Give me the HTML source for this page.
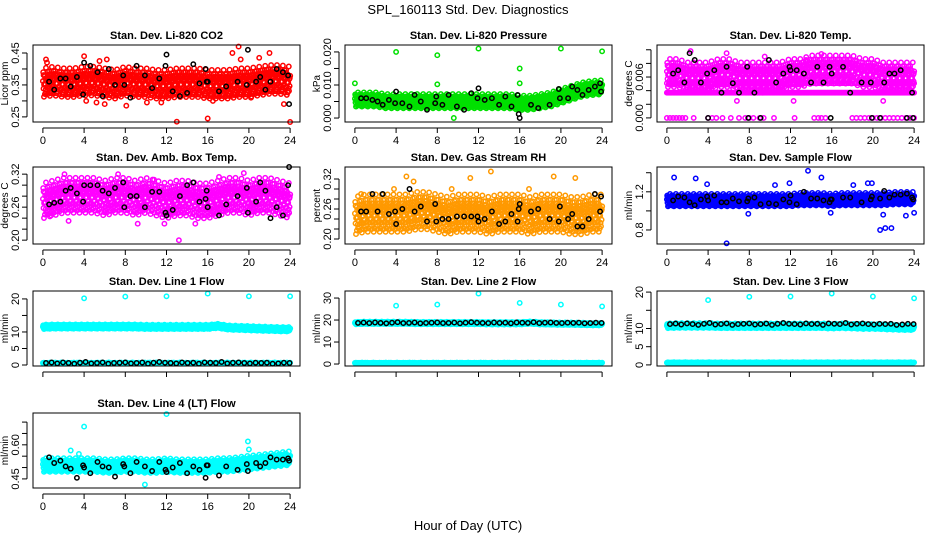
<!DOCTYPE html>
<html><head><meta charset="utf-8"><style>
html,body{margin:0;padding:0;background:#fff;}
svg{display:block;font-family:"Liberation Sans",sans-serif;}
</style></head><body>
<svg id="c" width="936" height="540" viewBox="0 0 936 540" xmlns="http://www.w3.org/2000/svg">
<rect x="0" y="0" width="936" height="540" fill="#fff"/>
<text x="468" y="14" text-anchor="middle" font-size="13">SPL_160113  Std. Dev. Diagnostics</text>
<text x="468" y="530" text-anchor="middle" font-size="13">Hour of Day (UTC)</text>
</svg>
<script>
const hoursTicks=[0,4,8,12,16,20,24];
const offPattern=[0,.7,-.5,.3,-.9,.5,-.2,.9,-.7,.1,.6,-.4,.8,-.6,.2,-.8,.4,-.1,1,-1,.45,-.3,.15];
const titles=["Stan. Dev. Li-820 CO2","Stan. Dev. Li-820 Pressure","Stan. Dev. Li-820 Temp.","Stan. Dev. Amb. Box Temp.","Stan. Dev. Gas Stream RH","Stan. Dev. Sample Flow","Stan. Dev. Line 1 Flow","Stan. Dev. Line 2 Flow","Stan. Dev. Line 3 Flow","Stan. Dev. Line 4 (LT) Flow"];
const yLabels=["Licor ppm","kPa","degrees C","degrees C","percent","ml/min","ml/min","ml/min","ml/min","ml/min"];
const ylims=[[0.234,0.475],[-0.0012,0.0221],[-0.0006,0.0107],[0.193,0.333],[0.19,0.344],[0.653,1.46],[-0.3,22.4],[-0.9,33.2],[-0.3,20.3],[0.41,0.74]];
const yTicks=[[0.25,0.3,0.35,0.4,0.45],[0,0.005,0.01,0.015,0.02],[0,0.002,0.004,0.006,0.008,0.01],[0.2,0.22,0.24,0.26,0.28,0.3,0.32],[0.2,0.22,0.24,0.26,0.28,0.3,0.32],[0.8,1.0,1.2,1.4],[0,5,10,15,20],[0,10,20,30],[0,5,10,15,20],[0.45,0.5,0.55,0.6,0.65,0.7]];
const yTickLabels=[["0.25","","0.35","","0.45"],["0.000","","0.010","","0.020"],["0.000","","","0.006","",""],["0.20","","","0.26","","","0.32"],["0.20","","","0.26","","","0.32"],["0.8","","1.2",""],["0","5","10","","20"],["0","10","20","30"],["0","5","10","","20"],["0.45","","","0.60","",""]];
const colors=["#ff0000","#00e000","#ff00ff","#ff00ff","#ff9900","#0000ff","#00ffff","#00ffff","#00ffff","#00ffff"];
const cloudCenter=[
[.355,.36,.355,.355,.36,.36,.355,.35,.36,.355,.355,.35,.35,.355,.355,.355,.35,.35,.35,.355,.355,.36,.365,.365,.36],
[.0055,.0055,.0055,.005,.005,.005,.005,.005,.005,.005,.005,.005,.005,.005,.005,.005,.0045,.0045,.005,.0055,.0065,.0075,.0085,.0090,.0092],
[.0065,.0065,.006,.006,.006,.0065,.0065,.006,.006,.006,.006,.006,.0065,.0065,.007,.007,.007,.007,.007,.0065,.0065,.006,.006,.006,.006],
[.27,.275,.28,.28,.28,.28,.275,.28,.28,.275,.28,.275,.27,.275,.275,.27,.27,.275,.28,.28,.275,.28,.28,.275,.27],
[.245,.25,.25,.25,.25,.25,.255,.255,.25,.245,.25,.25,.25,.245,.25,.25,.25,.245,.25,.25,.25,.245,.245,.25,.25],
[1.11,1.11,1.11,1.11,1.11,1.11,1.11,1.11,1.11,1.11,1.11,1.11,1.11,1.12,1.12,1.12,1.11,1.12,1.12,1.12,1.12,1.12,1.13,1.13,1.13],
[11.5,11.6,11.6,11.6,11.6,11.6,11.6,11.6,11.6,11.6,11.5,11.5,11.5,11.5,11.5,11.5,11.5,11.8,11.3,11.2,11.1,11.0,10.9,10.8,10.8],
[18.6,18.7,18.7,18.7,18.7,18.7,18.6,18.6,18.6,18.6,18.6,18.6,18.6,18.5,18.5,18.5,18.5,18.8,18.5,18.4,18.3,18.3,18.2,18.1,18.1],
[10.7,10.8,10.8,10.8,10.8,10.7,10.7,10.7,10.7,10.7,10.7,10.7,10.7,10.7,10.7,10.7,10.6,10.7,10.6,10.5,10.5,10.4,10.3,10.2,10.2],
[.51,.51,.51,.51,.51,.51,.505,.505,.51,.51,.505,.505,.51,.505,.505,.505,.505,.51,.51,.515,.52,.525,.53,.535,.54]];
const cloudSpread=[.048,.0023,.0022,.034,.04,.07,.7,.6,.7,.032];
const bandLevel=[null,null,.0037,null,null,null,.6,.5,.6,null];
const bandLevel2=[null,null,.0051,null,null,null,null,null,null,null];
const bandZeroHours=[[],[],[0,0.3,0.6,0.9,1.2,1.5,1.8,2.6,4,4.4,4.8,5.4,6.2,7,7.6,8,8.4,9,9.4,10.4,12.4,14.3,14.7,15,15.4,18,18.4,18.8,19.2,19.6,20,20.4,20.8,21.2,21.6,22,22.4,22.8,23.2,23.6,24],[],[],[],[],[],[],[]];
const outliers=[
[[.3,.43],[.4,.42],[4,.44],[5.5,.425],[6.2,.43],[13,.235],[16,.245],[18.4,.45],[19,.47],[19.2,.43],[22,.45],[21,.435],[23.4,.29],[24,.23],[4.2,.3],[5.2,.295],[6,.29],[8.1,.285],[10.1,.295],[11.5,.295],[16.5,.3],[20.2,.31]],
[[0,.0105],[4,.02],[8,.019],[8,.0102],[9.6,0],[12,.021],[16,.015],[16,.0105],[20,.021],[24,.0202]],
[[2.3,.0098],[5.8,.0095],[6.8,.0025],[12.3,.0025],[15,.0094],[21,.0025],[13.5,.0085],[9.5,.009]],
[[.8,.245],[2.1,.32],[2.5,.235],[4.1,.3],[7.3,.32],[10.8,.31],[11.8,.23],[13.2,.2],[14.8,.23],[17.1,.315],[19.5,.322],[23.9,.25],[9.2,.23]],
[[.6,.29],[3.8,.3],[5,.325],[5.7,.315],[9.4,.3],[10.2,.22],[11.2,.322],[13.2,.335],[16.9,.3],[19.3,.325],[21.4,.322],[23.5,.22]],
[[.7,1.35],[2.8,1.34],[3.9,1.28],[5.8,.66],[7.9,.97],[10.5,1.27],[11.9,1.29],[13.7,1.42],[15,1.35],[15.9,.98],[18.1,1.27],[19.5,1.29],[19.9,1.29],[20.7,.8],[21.2,.82],[21.8,.82],[23.2,.95],[24,.98],[21,.96]],
[[4,20.2],[8,20.7],[12,20.8],[16,21.6],[20,20.8],[24,20.8]],
[[4,26.5],[8,27],[12,32],[16,27.8],[20,27],[24,26.2]],
[[4,17.8],[8,18.7],[12,18.8],[16,19.6],[20,18.8],[24,18.3]],
[[4,.68],[12,.735],[2.7,.575],[3.5,.56],[19.9,.615],[9.9,.425],[20,.58]]];
const blackHours=[.6,1.1,1.7,2.2,2.7,3.3,3.9,4,4.6,5.3,5.8,6.4,7,7.8,7.9,8.5,9.1,9.9,10.6,11.3,11.9,12,12.6,13.3,14,14.6,15.2,15.8,15.9,16,17.1,17.8,18.9,19.8,19.9,20.7,21.1,21.6,22.1,22.7,23.3,23.8,23.9];
const blackVals=[
[.36,.335,.37,.37,.345,.375,.32,.42,.41,.39,.315,.4,.35,.38,.35,.31,.41,.38,.34,.37,.41,.445,.33,.315,.325,.415,.355,.4,.36,.36,.33,.345,.36,.35,.46,.36,.375,.335,.36,.4,.39,.38,.29],
[.006,.006,.0055,.005,.004,.0055,.0045,.008,.0045,.0035,.007,.005,.0025,.0045,.0065,.004,.007,.0035,.0025,.0075,.006,.009,.0055,.006,.004,.0065,.0035,.007,.0012,.0,.004,.003,.004,.0088,.006,.006,.0095,.0085,.007,.0085,.0095,.0105,.008],
[.0065,.007,.0052,.0095,.0085,.0052,.0065,.0,.007,.0037,.0075,.0051,.0037,.0075,.0,.0037,.0,.0085,.0052,.0065,.0075,.007,.007,.0065,.0052,.0075,.0052,.0075,.0,.0065,.0075,.0037,.0052,.0052,.0,.0,.0052,.0065,.0065,.007,.0,.0037,.0],
[.265,.268,.27,.29,.295,.285,.27,.3,.3,.3,.29,.285,.295,.305,.26,.28,.28,.26,.288,.288,.25,.245,.255,.28,.3,.305,.27,.275,.29,.26,.245,.265,.28,.295,.25,.27,.305,.29,.24,.26,.245,.3,.335],
[.255,.255,.29,.255,.29,.25,.255,.23,.26,.3,.255,.265,.235,.27,.235,.24,.24,.245,.245,.245,.245,.235,.24,.255,.23,.235,.25,.235,.26,.27,.255,.26,.24,.235,.265,.24,.25,.225,.225,.24,.29,.255,.285],
[1.11,1.15,1.14,1.09,1.06,1.12,1.15,1.11,1.16,1.09,1.09,1.13,1.1,1.1,1.13,1.14,1.07,1.08,1.07,1.12,1.09,1.16,1.07,1.2,1.13,1.13,1.11,1.09,1.12,1.12,1.14,1.14,1.09,1.12,1.15,1.13,1.21,1.14,1.17,1.17,1.18,1.14,1.12],
null,null,null,
[.545,.52,.53,.505,.495,.455,.51,.5,.475,.525,.505,.5,.46,.515,.505,.475,.525,.505,.485,.525,.49,.48,.5,.52,.475,.505,.49,.455,.51,.51,.465,.505,.49,.515,.485,.52,.505,.52,.545,.535,.535,.54,.53]];
const blackLevel=[null,null,null,null,null,null,.6,18.7,11.2,null];
const blackLevelVar=[0,.15,-.1,.2,0,-.2,.1,.3,-.1,0,.2,-.2,0,.1,.2,-.1,0,.15,-.2,.1,.3,.1,0,-.1,.2,0,.1,-.2,.2,.1,0,.3,-.1,.1,.2,0,-.1,.1,0,.1,-.2,-.1,.1];

const boxX=[[33,300],[345,612],[657,924]];
const boxY=[[45,122],[167,244],[291,366],[413,488]];
const NS="http://www.w3.org/2000/svg";
const svg=document.getElementById('c');
function mk(tag,attrs,parent){const e=document.createElementNS(NS,tag);for(const k in attrs)e.setAttribute(k,attrs[k]);(parent||svg).appendChild(e);return e;}
function interp(arr,t){const i=Math.min(23,Math.floor(t));const f=t-i;return arr[i]*(1-f)+arr[i+1]*f;}

titles.forEach((title,p)=>{
  const col=p%3,row=Math.floor(p/3);
  const [x0,x1]=boxX[col],[y0,y1]=boxY[row];
  const g=mk('g',{});
  
  
  const sx=h=>x0+(x1-x0)*(h+0.96)/25.92;
  const [lo,hi]=ylims[p];
  const sy=v=>y1-(y1-y0)*(v-lo)/(hi-lo);
  const t=mk('text',{x:(x0+x1)/2,y:y0-6,'text-anchor':'middle','font-size':11,'font-weight':'bold'},g);t.textContent=title;
  
  
  const c=colors[p];
  const pts=mk('g',{fill:'none','stroke-width':1.5},g);
  
  
  function dot(h,v,col){const v2=Math.max(lo,Math.min(hi,v));mk('circle',{cx:sx(h).toFixed(1),cy:sy(v2).toFixed(1),r:2.2,stroke:col},pts);}
  let k=0;
  const L=offPattern.length;
  for(let s=0;s<=960;s++){const h=s*0.025+0.012*offPattern[(k*5)%L];const o=offPattern[k%L]*0.55+offPattern[(k*7+3)%L]*0.45;k++;dot(h,interp(cloudCenter[p],Math.max(0,Math.min(24,h)))+cloudSpread[p]*o*1.1,c);}
  if(bandLevel[p]!==null){for(let s=0;s<=240;s++){const h=s*0.1;dot(h,bandLevel[p]+ (p>=6?0.15*offPattern[s%L]:0),c);}}
  if(bandLevel2[p]!==null){for(let s=0;s<=240;s+=2){dot(s*0.1,bandLevel2[p],c);}}
  bandZeroHours[p].forEach(h=>dot(h,0,c));
  outliers[p].forEach(o=>dot(o[0],o[1],c));
  if(blackVals[p]){blackHours.forEach((h,i)=>dot(h,blackVals[p][i],'#000'));}
  if(blackLevel[p]!==null){let i=0;for(let s=0.3;s<=24;s+=0.55){dot(s,blackLevel[p]+blackLevelVar[i++%blackLevelVar.length],'#000');}}
  const ax=mk('rect',{x:x0,y:y0,width:x1-x0,height:y1-y0,fill:'none',stroke:'#000','stroke-width':1},g);
  
  
  const xa=mk('g',{},g);
  
  
  mk('line',{x1:sx(0),x2:sx(24),y1:y1+6,y2:y1+6,stroke:'#000'},xa);
  hoursTicks.forEach(h=>{mk('line',{x1:sx(h),x2:sx(h),y1:y1+6,y2:y1+11,stroke:'#000'},xa);
    if(row<2||p===9){const tl=mk('text',{x:sx(h),y:y1+22,'text-anchor':'middle','font-size':11},xa);tl.textContent=h;}});
  const ya=mk('g',{},g);
  
  
  const tk=yTicks[p];
  mk('line',{x1:x0-6,x2:x0-6,y1:sy(tk[0]),y2:sy(tk[tk.length-1]),stroke:'#000'},ya);
  tk.forEach((v,i)=>{const yy=sy(v);mk('line',{x1:x0-11,x2:x0-6,y1:yy,y2:yy,stroke:'#000'},ya);
    const lab=yTickLabels[p][i];if(lab){const tl=mk('text',{x:x0-14,y:yy,'text-anchor':'middle','font-size':11,transform:`rotate(-90 ${x0-14} ${yy})`},ya);tl.textContent=lab;}});
  const yl=mk('text',{x:x0-25,y:(y0+y1)/2,'text-anchor':'middle','font-size':10,transform:`rotate(-90 ${x0-25} ${(y0+y1)/2})`},g);
  yl.textContent=yLabels[p];
  
  
});
</script>
</body></html>
